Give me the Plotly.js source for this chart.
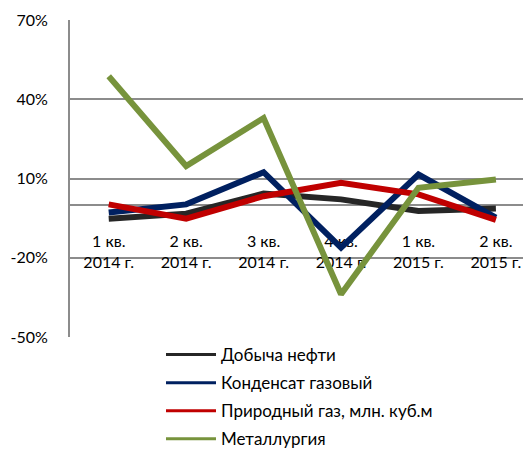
<!DOCTYPE html>
<html>
<head>
<meta charset="utf-8">
<script src="https://cdn.plot.ly/plotly-3.0.1.min.js"></script>
<style>html,body{margin:0;padding:0;background:#fff;}#chart{width:523px;height:450px;}</style>
</head>
<body>
<div id="chart"></div>
<script>
const categories = ["1 кв.<br>2014 г.", "2 кв.<br>2014 г.", "3 кв.<br>2014 г.", "4 кв.<br>2014 г.", "1 кв.<br>2015 г.", "2 кв.<br>2015 г."];
const seriesNames = ["Добыча нефти", "Конденсат газовый", "Природный газ, млн. куб.м", "Металлургия"];
const oil = [-5.2, -3.3, 4.3, 2.1, -2.3, -1.4];
const condensate = [-2.9, 0.2, 12.4, -16.2, 11.5, -4.8];
const gas = [0.2, -5.2, 3.3, 8.4, 4.0, -5.7];
const metallurgy = [48.7, 14.7, 32.9, -33.8, 6.5, 9.6];
const yTicks = [-50, -20, 10, 40, 70];
const yTickText = ["-50%", "-20%", "10%", "40%", "70%"];

const colors = ["#262626", "#002060", "#C00000", "#77933C"];
const values = [oil, condensate, gas, metallurgy];
const idx = categories.map((_, i) => i);

const traces = [];
values.forEach((v, k) => {
  traces.push({
    x: idx, y: v, type: "scatter", mode: "lines",
    line: {color: colors[k], width: 6},
    showlegend: false, hoverinfo: "skip"
  });
});
values.forEach((v, k) => {
  traces.push({
    x: [null], y: [null], type: "scatter", mode: "lines",
    name: seriesNames[k], legendgroup: "g" + k,
    line: {color: colors[k], width: 3}
  });
});

const layout = {
  width: 523, height: 450,
  margin: {l: 70, r: 0, t: 20, b: 113, pad: 0, autoexpand: false},
  paper_bgcolor: "#fff", plot_bgcolor: "#fff",
  font: {family: "Lato, 'Open Sans', sans-serif", size: 16, color: "#000"},
  showlegend: true,
  legend: {
    xref: "container", yref: "container",
    x: 161/523, y: 1 - 337/450, xanchor: "left", yanchor: "top",
    orientation: "v", tracegroupgap: 3, itemwidth: 50,
    font: {size: 17, color: "#000"}, bgcolor: "rgba(0,0,0,0)"
  },
  xaxis: {
    type: "linear", range: [-0.5, 5.35],
    tickmode: "array", tickvals: idx, ticktext: categories,
    showgrid: false, zeroline: false,
    showline: true, linecolor: "#8c8c8c", linewidth: 2,
    anchor: "free", position: 50/120,
    ticks: "", ticklabelstandoff: 22, tickangle: 0,
    layer: "below traces",
    tickfont: {size: 16}
  },
  yaxis: {
    range: [-50, 70],
    tickmode: "array", tickvals: yTicks, ticktext: yTickText,
    showgrid: true, gridcolor: "#8c8c8c", gridwidth: 2,
    zeroline: false,
    showline: true, linecolor: "#8c8c8c", linewidth: 2,
    ticks: "", ticklabelstandoff: 17,
    tickfont: {size: 16}
  }
};

Plotly.newPlot("chart", traces, layout, {displayModeBar: false, staticPlot: true});
</script>
</body>
</html>
